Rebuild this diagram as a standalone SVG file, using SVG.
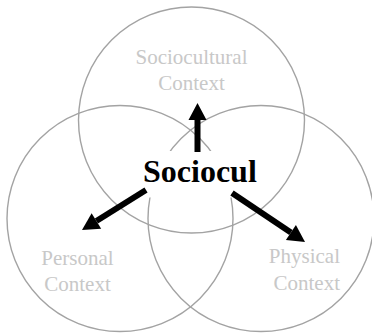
<svg xmlns="http://www.w3.org/2000/svg" width="372" height="334" viewBox="0 0 372 334">
<style>
.ring{fill:none;stroke:#a3a3a3;stroke-width:1.4}
.lbl{font-family:"Liberation Serif","Times New Roman",serif;font-size:21px;fill:#c8c8c8}
.title{font-family:"Liberation Serif","Times New Roman",serif;font-size:32px;font-weight:bold;fill:#000}
.arr{stroke:#000;stroke-width:6;fill:none}
</style>
<defs>
<marker id="head" markerUnits="userSpaceOnUse" markerWidth="18" markerHeight="19" refX="0" refY="9" orient="auto" viewBox="0 0 18 19" overflow="visible">
<path d="M0,0 L17,9 L0,18 z" fill="#000"/>
</marker>
</defs>
<rect width="372" height="334" fill="#fff"/>
<g id="sociocultural">
<circle class="ring" cx="191.5" cy="120" r="113"/>
<text class="lbl" x="191.5" y="64" text-anchor="middle">Sociocultural</text>
<text class="lbl" x="191.5" y="90" text-anchor="middle">Context</text>
</g>
<g id="personal">
<circle class="ring" cx="120" cy="218.5" r="113"/>
<text class="lbl" x="77.5" y="265" text-anchor="middle">Personal</text>
<text class="lbl" x="77.5" y="291" text-anchor="middle">Context</text>
</g>
<g id="physical">
<circle class="ring" cx="261" cy="218.5" r="113"/>
<text class="lbl" x="340" y="263" text-anchor="end">Physical</text>
<text class="lbl" x="340" y="290" text-anchor="end">Context</text>
</g>
<g id="center">
<rect x="140" y="151" width="118" height="46.5" fill="#fff"/>
<text class="title" x="143" y="182">Sociocul</text>
</g>
<g id="connectors">
<line class="arr" x1="197.5" y1="152" x2="197.5" y2="120" marker-end="url(#head)"/>
<line class="arr" x1="146" y1="190" x2="96.4" y2="221" marker-end="url(#head)"/>
<line class="arr" x1="232" y1="193" x2="290.9" y2="232.5" marker-end="url(#head)"/>
</g>
</svg>
